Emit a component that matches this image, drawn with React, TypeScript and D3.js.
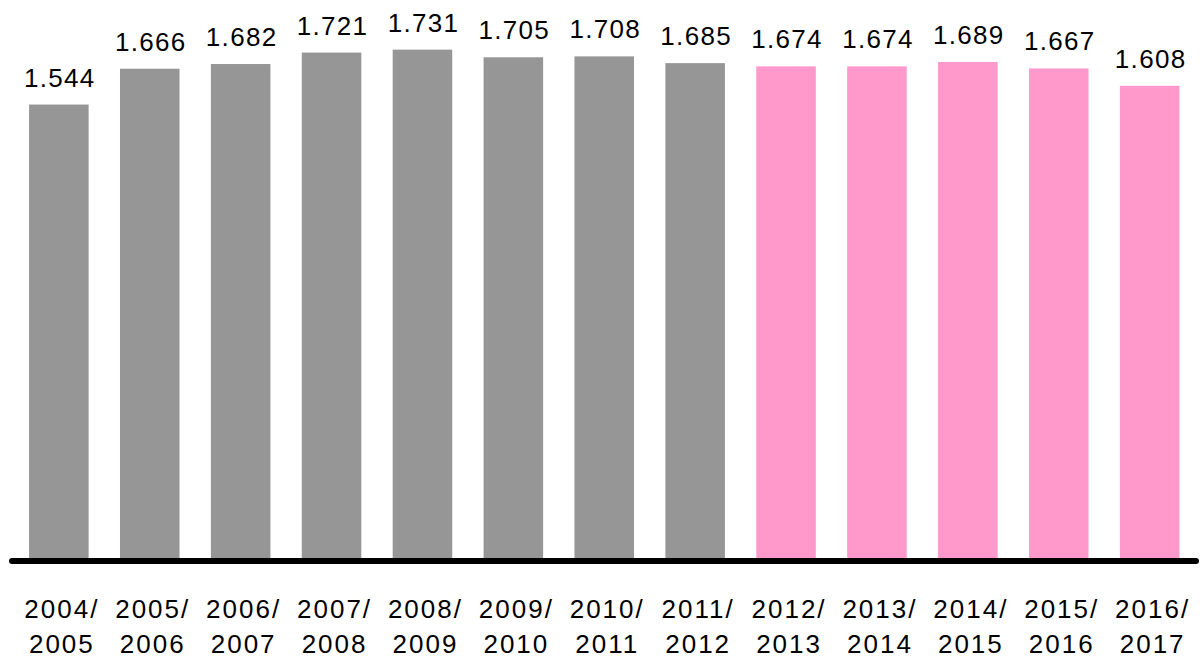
import React from "react";
import * as d3 from "d3";

const categories = [
  "2004/2005", "2005/2006", "2006/2007", "2007/2008", "2008/2009", "2009/2010", "2010/2011",
  "2011/2012", "2012/2013", "2013/2014", "2014/2015", "2015/2016", "2016/2017",
];
const values = [1.544, 1.666, 1.682, 1.721, 1.731, 1.705, 1.708, 1.685, 1.674, 1.674, 1.689, 1.667, 1.608];
const valueLabels = ["1.544", "1.666", "1.682", "1.721", "1.731", "1.705", "1.708", "1.685", "1.674", "1.674", "1.689", "1.667", "1.608"];
const highlighted = [false, false, false, false, false, false, false, false, true, true, true, true, true];

const W = 1200;
const H = 658;
const GRAY = "#969696";
const PINK = "#FF99CC";
const FONT = "'Liberation Sans', Arial, Helvetica, sans-serif";

export default function App() {
  const x = d3.scaleBand<string>().domain(categories).range([10.9, 1197.6]).paddingInner(0.345).paddingOuter(0.2);
  const y = d3.scaleLinear().domain([0, 1.9]).range([558, 0]);

  return (
    <svg width={W} height={H} style={{ position: "absolute", left: 0, top: 0, background: "#fff" }}>
      {categories.map((c, i) => {
        const bx = x(c)!;
        const bw = x.bandwidth();
        const cx = bx + bw / 2;
        const [l1, l2] = c.split("/");
        return (
          <g key={c}>
            <rect x={bx} y={y(values[i])} width={bw} height={y(0) - y(values[i])} fill={highlighted[i] ? PINK : GRAY} />
            <text x={cx + 1} y={y(values[i]) - 18} textAnchor="middle" fontFamily={FONT} fontSize={26} letterSpacing={1.3} fill="#000">
              {valueLabels[i]}
            </text>
            <text x={cx + 3} y={618} textAnchor="middle" fontFamily={FONT} fontSize={26} letterSpacing={2} fill="#000">
              {l1 + "/"}
            </text>
            <text x={cx + 3} y={653} textAnchor="middle" fontFamily={FONT} fontSize={26} letterSpacing={2} fill="#000">
              {l2}
            </text>
          </g>
        );
      })}
      <line x1={12} x2={1196} y1={561} y2={561} stroke="#000" strokeWidth={6} strokeLinecap="round" />
    </svg>
  );
}
